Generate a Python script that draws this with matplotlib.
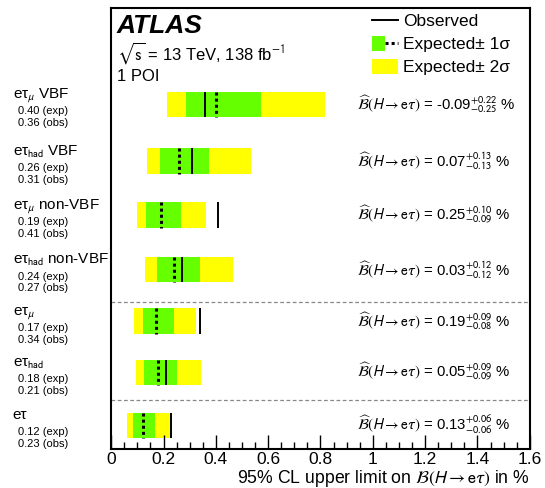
import matplotlib
matplotlib.use("Agg")
import matplotlib.pyplot as plt
from matplotlib.patches import Patch
from matplotlib.lines import Line2D
from matplotlib.legend_handler import HandlerTuple
import matplotlib.transforms as mtransforms

plt.rcParams['font.family'] = ['Liberation Sans', 'DejaVu Sans']
plt.rcParams['mathtext.fontset'] = 'stixsans'

# ---- data ----
channels = ['eτ$_{\\mu}$ VBF', 'eτ$_{\\mathrm{had}}$ VBF', 'eτ$_{\\mu}$ non-VBF',
            'eτ$_{\\mathrm{had}}$ non-VBF', 'eτ$_{\\mu}$', 'eτ$_{\\mathrm{had}}$', 'eτ']
exp_limit = [0.40, 0.26, 0.19, 0.24, 0.17, 0.18, 0.12]
obs_limit = [0.36, 0.31, 0.41, 0.27, 0.34, 0.21, 0.23]
band_m2 = [0.214, 0.137, 0.099, 0.130, 0.089, 0.094, 0.061]
band_m1 = [0.286, 0.186, 0.134, 0.174, 0.122, 0.126, 0.084]
band_p1 = [0.573, 0.374, 0.267, 0.341, 0.239, 0.252, 0.168]
band_p2 = [0.819, 0.534, 0.364, 0.464, 0.326, 0.344, 0.230]
bestfit = ['-0.09', '0.07', '0.25', '0.03', '0.19', '0.05', '0.13']
bestfit_up = ['0.22', '0.13', '0.10', '0.12', '0.09', '0.09', '0.06']
bestfit_dn = ['0.25', '0.13', '0.09', '0.12', '0.08', '0.09', '0.06']
xticks = [0, 0.2, 0.4, 0.6, 0.8, 1.0, 1.2, 1.4, 1.6]

# ---- layout ----
row_y = [1.75, 2.78, 3.76, 4.75, 5.68, 6.61, 7.57]
sep_y = [5.34, 7.12]
bar_h = 0.46
GREEN = '#66ff00'
YELLOW = '#ffff00'

fig = plt.figure(figsize=(5.45, 4.88), dpi=100)
ax = fig.add_axes([0.204, 0.080, 0.768, 0.904])
ax.set_xlim(0, 1.6)
ax.set_ylim(8.0, 0)

for i, y in enumerate(row_y):
    ax.barh(y, band_p2[i] - band_m2[i], left=band_m2[i], height=bar_h, color=YELLOW, lw=0, zorder=1)
    ax.barh(y, band_p1[i] - band_m1[i], left=band_m1[i], height=bar_h, color=GREEN, lw=0, zorder=2)
    ax.vlines(exp_limit[i], y - bar_h / 2, y + bar_h / 2, colors='k', linestyles=(0, (1, 1)), lw=2.2, zorder=3)
    ax.vlines(obs_limit[i], y - bar_h / 2, y + bar_h / 2, colors='k', lw=1.4, zorder=3)
    ax.text(0.94, y, r'$\widehat{\mathcal{B}}(H \rightarrow \mathrm{e}\tau)$ = ' + bestfit[i]
            + r'$^{+' + bestfit_up[i] + r'}_{-' + bestfit_dn[i] + r'}$ %',
            fontsize=10.7, va='center', ha='left')

for s in sep_y:
    ax.axhline(s, color='#888888', ls=(0, (3, 2)), lw=0.9, zorder=0)

# left labels
tr = mtransforms.blended_transform_factory(fig.transFigure, ax.transData)
for i, y in enumerate(row_y):
    ax.text(12.7 / 545, y - 0.12, channels[i], transform=tr, fontsize=11, va='baseline', ha='left')
    ax.text(18 / 545, y + 0.18, f'{exp_limit[i]:.2f} (exp)', transform=tr, fontsize=8, va='baseline', ha='left')
    ax.text(18 / 545, y + 0.39, f'{obs_limit[i]:.2f} (obs)', transform=tr, fontsize=8, va='baseline', ha='left')

# axes styling
for sp in ax.spines.values():
    sp.set_linewidth(1.5)
ax.set_yticks([])
ax.set_xticks(xticks)
ax.set_xticklabels([f'{v:g}' for v in xticks], fontsize=12.5)
ax.xaxis.set_minor_locator(matplotlib.ticker.MultipleLocator(0.05))
ax.tick_params(axis='x', which='major', direction='in', length=10, width=1, pad=2)
ax.tick_params(axis='x', which='minor', direction='in', length=5, width=1)
fig.text(530 / 545, 5 / 488, r'95% CL upper limit on $\mathcal{B}(H \rightarrow \mathrm{e}\tau)$ in %',
         fontsize=12.7, ha='right', va='baseline')

# header text
ax.text(0.014, 0.9433, 'ATLAS', transform=ax.transAxes, fontsize=19, fontweight='bold', fontstyle='italic', va='baseline')
ax.text(0.014, 0.882, r'$\sqrt{\mathrm{s}}$ = 13 TeV, 138 fb$^{-1}$', transform=ax.transAxes, fontsize=12, va='baseline')
ax.text(0.014, 0.833, '1 POI', transform=ax.transAxes, fontsize=12, va='baseline')

# legend
h_obs = Line2D([], [], color='k', lw=1.4)
h_1s = (Patch(color=GREEN, lw=0), Line2D([], [], color='k', ls=(0, (1, 1)), lw=2.2))
h_2s = Patch(color=YELLOW, lw=0)
leg = ax.legend([h_obs, h_1s, h_2s], ['Observed', 'Expected± 1σ', 'Expected± 2σ'],
                handler_map={tuple: HandlerTuple(ndivide=None, pad=0)},
                loc='upper left', bbox_to_anchor=(0.623, 0.988), frameon=False, fontsize=12.5,
                borderpad=0, borderaxespad=0, handlelength=1.5, handleheight=0.92,
                handletextpad=0.3, labelspacing=0.38)

fig.savefig('out.png', dpi=100)
